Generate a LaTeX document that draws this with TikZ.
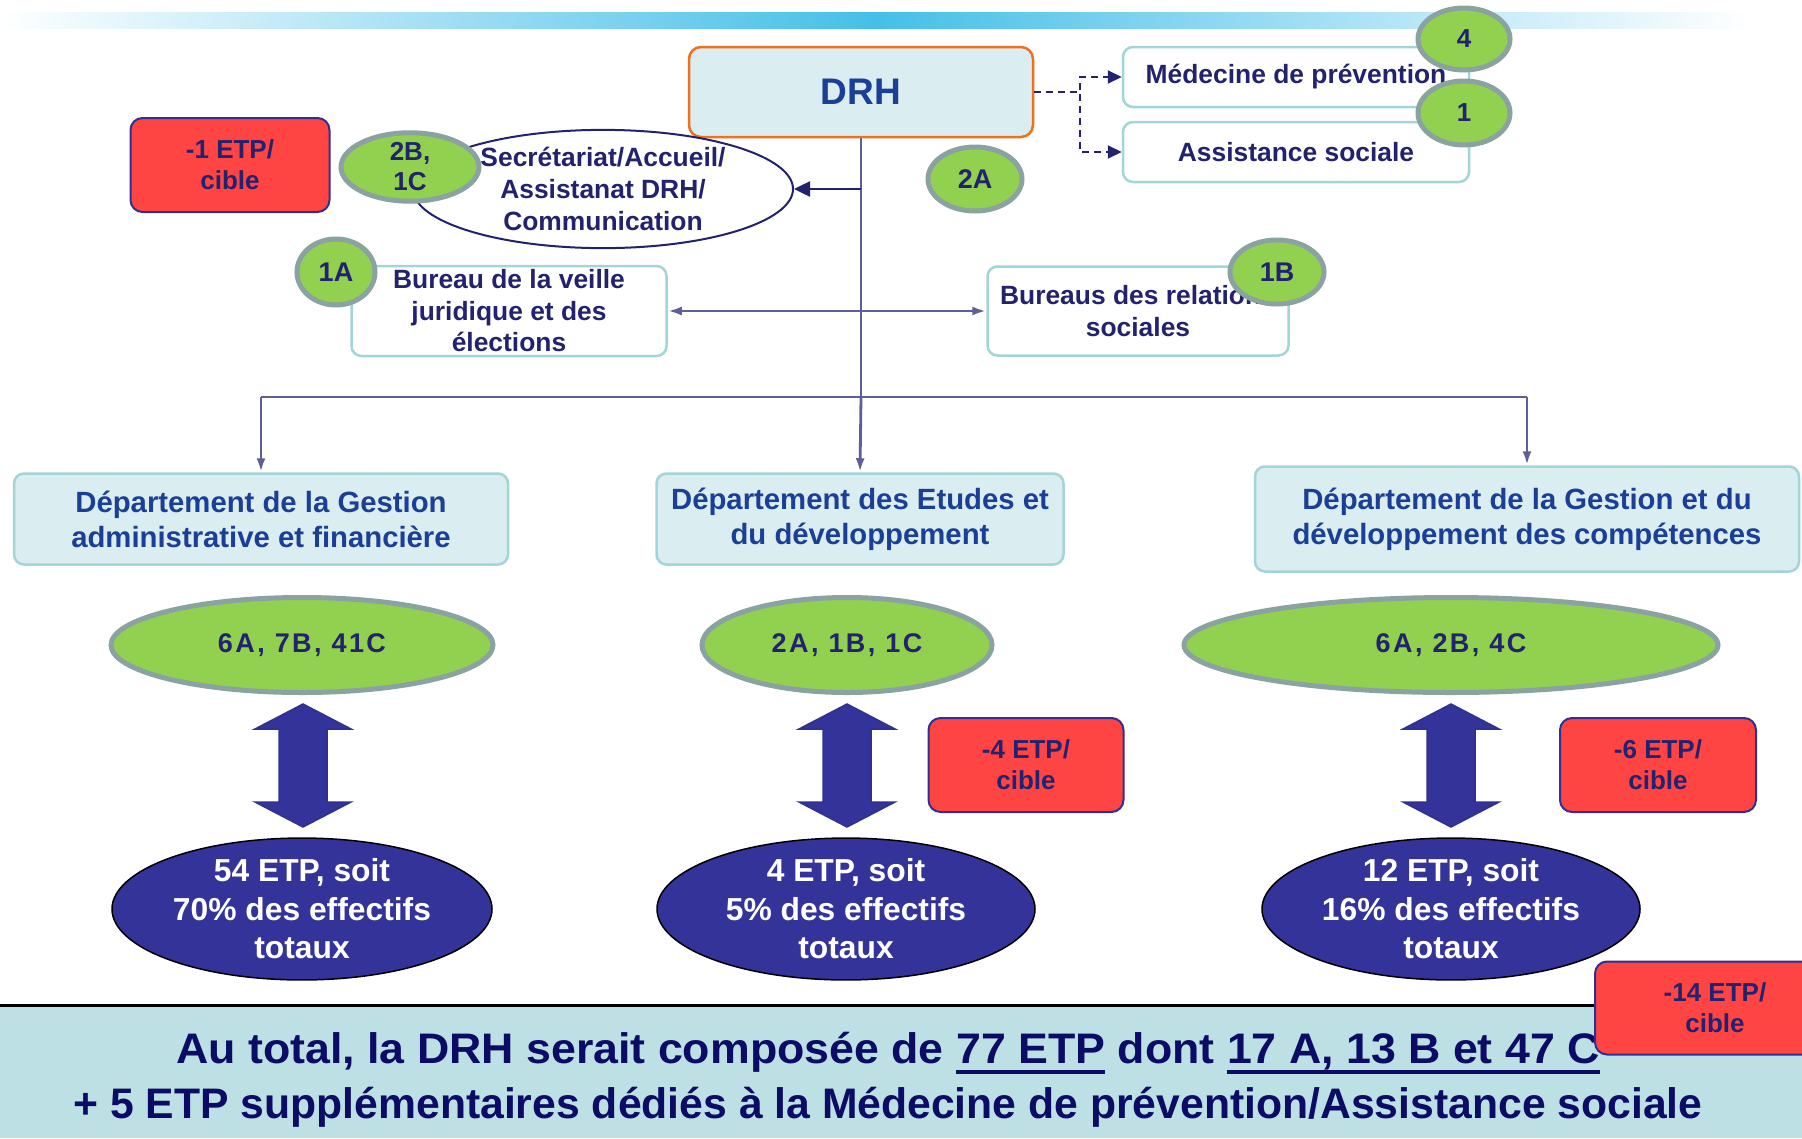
\documentclass[tikz,border=0pt]{standalone}
\usepackage{graphicx}
\usepackage{fontspec}
\setmainfont{Liberation Sans}
\newfontfamily\spacedfont{Liberation Sans}[LetterSpace=9]
\usetikzlibrary{shapes.geometric,arrows.meta}

\definecolor{navytxt}{HTML}{22226E}
\definecolor{bluetxt}{HTML}{1B3F96}
\definecolor{boxfill}{HTML}{DAEDF0}
\definecolor{boxedge}{HTML}{A3D4D8}
\definecolor{drhedge}{HTML}{F07020}
\definecolor{greenfill}{HTML}{92D050}
\definecolor{greenedge}{HTML}{8AA2A2}
\definecolor{redfill}{HTML}{FF4444}
\definecolor{rededge}{HTML}{2E3192}
\definecolor{navyfill}{HTML}{333399}
\definecolor{slateline}{HTML}{5E5E98}
\definecolor{bandcyan}{HTML}{45BFE8}
\definecolor{bandteal}{HTML}{BCE0E3}
\definecolor{bottomtxt}{HTML}{0C0C66}

\newcommand\fsz[2]{\fontsize{#1}{#2}\selectfont}
\newcommand\ulpart[1]{\setbox0\hbox{#1}\rlap{\color{bottomtxt}\rule[-10pt]{\wd0}{4pt}}\box0\relax}

\begin{document}
\begin{tikzpicture}[x=1pt,y=-1pt,
  every node/.style={font=\bfseries, inner sep=0pt, align=center},
  lightbox/.style={draw=boxedge, fill=boxfill, line width=2.5pt, rounded corners=10pt, text=bluetxt},
  whitebox/.style={draw=boxedge, fill=white, line width=2.5pt, rounded corners=10pt, text=navytxt},
  drhbox/.style={draw=drhedge, fill=boxfill, line width=2.5pt, rounded corners=12pt, text=bluetxt},
  tag/.style={ellipse, draw=greenedge, fill=greenfill, line width=5pt, text=navytxt},
  redbox/.style={draw=rededge, fill=redfill, line width=2pt, rounded corners=12pt, text=navytxt},
  total/.style={ellipse, draw=black, fill=navyfill, line width=1.5pt, text=white},
  link/.style={draw=slateline, line width=2.8pt},
  tip/.style={-{Latex[length=14pt,width=9pt]}},
  bigarrow/.pic={\draw[fill=navyfill, draw=rededge, line width=1.5pt]
     (0,-61.5) -- (48,-36.5) -- (24,-36.5) -- (24,36.5) -- (48,36.5) -- (0,61.5)
     -- (-48,36.5) -- (-24,36.5) -- (-24,-36.5) -- (-48,-36.5) -- cycle;}
]
\useasboundingbox (0,0) rectangle (1802,1138);
\clip (0,0) rectangle (1802,1138);
\fill[white] (0,0) rectangle (1802,1138);

% header band
\shade[left color=white, right color=white, middle color=bandcyan] (0,12) rectangle (1750,28);

% top level
\node[drhbox, minimum width=344pt, minimum height=90pt, font=\bfseries\fsz{37}{42}] (drh) at (861,92) {DRH};
\node[whitebox, minimum width=346pt, minimum height=60pt, font=\bfseries\fsz{26.4}{30}] (med) at (1296,77) {Médecine de prévention};
\node[whitebox, minimum width=346pt, minimum height=60pt, font=\bfseries\fsz{26.4}{30}] (ass) at (1296,152) {Assistance sociale};
\node[tag, minimum width=92pt, minimum height=62pt, font=\bfseries\fsz{26}{30}] (t4) at (1464,39) {4};
\node[tag, minimum width=92pt, minimum height=64pt, font=\bfseries\fsz{26}{30}] (t1) at (1464,113) {1};

\node[redbox, minimum width=199pt, minimum height=94pt, font=\bfseries\fsz{26}{31}] (r1) at (230,165) {-1 ETP/\\cible};
\node[ellipse, draw=navytxt, fill=white, line width=2pt, minimum width=380pt, minimum height=106pt,
      text=navytxt, font=\bfseries\fsz{26.4}{32}] (sec) at (603,189) {Secrétariat/Accueil/\\Assistanat DRH/\\Communication};
\node[tag, minimum width=138pt, minimum height=64pt, font=\bfseries\fsz{26}{30}] (t2b) at (410,167) {2B,\\1C};
\node[tag, minimum width=94pt, minimum height=64pt, font=\bfseries\fsz{27}{30}] (t2a) at (975,179) {2A};

\node[whitebox, minimum width=315pt, minimum height=90pt, font=\bfseries\fsz{26.4}{31.5}] (veille) at (509,311) {Bureau de la veille\\juridique et des\\élections};
\node[tag, minimum width=78pt, minimum height=66pt, font=\bfseries\fsz{27}{30}] (t1a) at (336,272) {1A};
\node[whitebox, minimum width=301pt, minimum height=89pt, font=\bfseries\fsz{26.4}{31.5}] (bur) at (1138,311) {Bureaus des relations\\sociales};
\node[tag, minimum width=94pt, minimum height=64pt, font=\bfseries\fsz{27}{30}] (t1b) at (1277,272) {1B};

% departments
\node[lightbox, minimum width=494pt, minimum height=91pt, font=\bfseries\fsz{29.3}{35}] (d1) at (261,519) {Département de la Gestion\\administrative et financière};
\node[lightbox, minimum width=407pt, minimum height=91pt, font=\bfseries\fsz{29.3}{35}] (d2) at (860,519) {Département des Etudes et\\du développement};
\node[lightbox, minimum width=544pt, minimum height=105pt, font=\bfseries\fsz{29.3}{35}] (d3) at (1527,519) {Département de la Gestion et du\\développement des compétences};

% staffing by grade
\node[tag, minimum width=382pt, minimum height=95pt, font=\spacedfont\bfseries\fsz{27}{30}] (g1) at (302,645) {6A, 7B, 41C};
\node[tag, minimum width=290pt, minimum height=95pt, font=\spacedfont\bfseries\fsz{27}{30}] (g2) at (847,645) {2A, 1B, 1C};
\node[tag, minimum width=534pt, minimum height=95pt, font=\spacedfont\bfseries\fsz{27}{30}] (g3) at (1451,645) {6A, 2B, 4C};

\pic at (303,765.5) {bigarrow};
\pic at (847,765.5) {bigarrow};
\pic at (1451,765.5) {bigarrow};

\node[redbox, minimum width=195pt, minimum height=94pt, font=\bfseries\fsz{26}{31}] (r4) at (1026,765) {-4 ETP/\\cible};
\node[redbox, minimum width=196pt, minimum height=94pt, font=\bfseries\fsz{26}{31}] (r6) at (1658,765) {-6 ETP/\\cible};

\node[total, minimum width=380pt, minimum height=136pt, font=\bfseries\fsz{31.8}{38.5}] (n1) at (302,909) {54 ETP, soit\\70\% des effectifs\\totaux};
\node[total, minimum width=378pt, minimum height=136pt, font=\bfseries\fsz{31.8}{38.5}] (n2) at (846,909) {4 ETP, soit\\5\% des effectifs\\totaux};
\node[total, minimum width=378pt, minimum height=136pt, font=\bfseries\fsz{31.8}{38.5}] (n3) at (1451,909) {12 ETP, soit\\16\% des effectifs\\totaux};

% connectors
\coordinate (bus) at (861,397);
\draw[link] (drh.south) -- (bus);
\draw[link, tip] (bus) -- (d2.north);
\draw[link] (bus -| d1.north) -- (bus -| d3.north);
\draw[link, tip] (bus -| d1.north) -- (d1.north);
\draw[link, tip] (bus -| d3.north) -- (d3.north);
\draw[link, {Latex[length=14pt,width=9pt]}-{Latex[length=14pt,width=9pt]}] (veille.east) -- (bur.west);
\draw[draw=navytxt, line width=2.5pt, -{Triangle[length=16pt,width=15pt]}] (drh.south |- sec.east) -- (sec.east);
\draw[draw=navytxt, line width=2pt, dash pattern=on 7pt off 5pt, -{Triangle[length=14pt,width=13pt]}]
  (drh.east) -- ++(46,0) |- (med.west);
\draw[draw=navytxt, line width=2pt, dash pattern=on 7pt off 5pt, -{Triangle[length=14pt,width=13pt]}]
  (drh.east) -- ++(46,0) |- (ass.west);

% summary band
\fill[bandteal] (0,1005) rectangle (1802,1138);
\draw[black, line width=3pt] (0,1005) -- (1802,1005);
\node[text=bottomtxt, font=\bfseries\fsz{42.7}{55}] (sum) at (888,1080)
  {\scalebox{1.047}[1]{Au total, la DRH serait composée de \ulpart{77 ETP} dont \ulpart{17 A, 13 B et 47 C}}\\
   + 5 ETP supplémentaires dédiés à la Médecine de prévention/Assistance sociale};
\node[redbox, minimum width=240pt, minimum height=93pt, font=\bfseries\fsz{26}{31}] (r14) at (1715,1008) {-14 ETP/\\cible};
\end{tikzpicture}
\end{document}
